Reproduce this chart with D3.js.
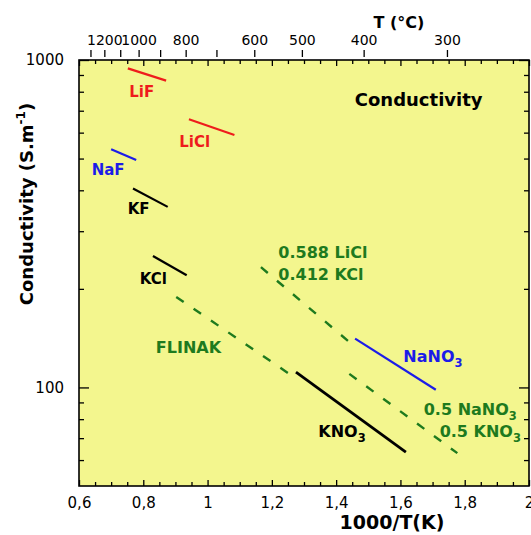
<!DOCTYPE html>
<html><head><meta charset="utf-8">
<script src="https://cdn.jsdelivr.net/npm/d3@7"></script>
<style>
html,body{margin:0;padding:0;background:#fff;}
svg{display:block;font-family:"DejaVu Sans",sans-serif;}
</style></head>
<body><svg id="c" width="531" height="535"></svg>
<script>
// ---- data ----
const seriesNames = ["LiF","LiCl","NaF","KF","KCl","FLINAK","LiCl-KCl","NaNO3","NaNO3-KNO3","KNO3"];
const invT = [[0.752,0.871],[0.942,1.0835],[0.700,0.778],[0.768,0.876],[0.830,0.935],
              [0.9025,1.26],[1.166,1.459],[1.459,1.710],[1.441,1.777],[1.275,1.617]];
const sigma = [[943,865],[659,590],[534,495],[405,356],[252,220],
               [189,109],[233,133],[141,98.4],[110,63],[111.4,63.4]];
const xMajor = [0.6,0.8,1.0,1.2,1.4,1.6,1.8,2.0];
const xMinor = [0.65,0.7,0.75,0.85,0.9,0.95,1.05,1.1,1.15,1.25,1.3,1.35,1.45,1.5,1.55,1.65,1.7,1.75,1.85,1.9,1.95];
const yMajor = [100,1000];
const yMinor = [60,70,80,90,200,300,400,500,600,700,800,900];
const tempC = [1300,1200,1100,1000,900,800,700,600,500,400,300];
const tempLabeled = [1200,1000,800,600,500,400,300];
// annotation anchors in data units [1000/T, sigma]
const labelText = ["LiF","LiCl","NaF","KF","KCl","FLINAK","0.588 LiCl","0.412 KCl","NaNO3","0.5 NaNO3","0.5 KNO3","KNO3"];
const labelPos = [[0.7565,771],[0.912,542],[0.6395,445],[0.7515,338],[0.789,207],[0.839,127.7],
                  [1.22,248.5],[1.22,212.8],[1.609,119.6],[1.6725,82.5],[1.722,70.5],[1.3446,70.5]];

// ---- styles ----
const RED="#ee1c1c", BLUE="#1c1ce8", GREEN="#1e7a1e", BLACK="#000";
const seriesStyle = {
  "LiF":{c:RED,w:2.2}, "LiCl":{c:RED,w:2.2}, "NaF":{c:BLUE,w:2.2}, "KF":{c:BLACK,w:2.2},
  "KCl":{c:BLACK,w:2.2}, "FLINAK":{c:GREEN,w:2.4,d:"9,12"}, "LiCl-KCl":{c:GREEN,w:2.4,d:"9,12"},
  "NaNO3":{c:BLUE,w:2.2}, "NaNO3-KNO3":{c:GREEN,w:2.4,d:"9,12"}, "KNO3":{c:BLACK,w:2.8}
};
const labelColor = [RED,RED,BLUE,BLACK,BLACK,GREEN,GREEN,GREEN,BLUE,GREEN,GREEN,BLACK];
const labelSize = [15,15,15,15,15,16,16,16,16,16,16,16];

const svg = d3.select("#c");
const L=79,R=529,T=60,B=486;
const x = d3.scaleLinear().domain([0.6,2]).range([L,R]);
const y = d3.scaleLog().domain([50,1000]).range([B,T]);

svg.append("rect").attr("x",L).attr("y",T).attr("width",R-L).attr("height",B-T).attr("fill","#f3f68e");

// lines
const line = d3.line().x(d=>x(d[0])).y(d=>y(d[1]));
seriesNames.forEach((n,i)=>{
  const pts = invT[i].map((v,j)=>[v,sigma[i][j]]);
  const s = seriesStyle[n];
  svg.append("path").datum(pts).attr("d",line).attr("fill","none")
    .attr("stroke",s.c).attr("stroke-width",s.w).attr("stroke-dasharray",s.d||null)
    .attr("stroke-linecap","butt");
});

// axes
function style(g, fs){
  g.select(".domain").remove();
  g.selectAll("line").attr("stroke","#000").attr("stroke-width",1.3);
  g.selectAll("text").attr("font-size",fs).attr("fill","#000").attr("font-family","DejaVu Sans");
}
const fmtX = d=>String(+d.toFixed(1)).replace(".",",");
svg.append("g").attr("transform",`translate(0,${B})`)
  .call(d3.axisBottom(x).tickValues(xMajor).tickSizeInner(-6).tickSizeOuter(0).tickPadding(11).tickFormat(fmtX))
  .call(g=>style(g,15));
svg.append("g").attr("transform",`translate(0,${B})`)
  .call(d3.axisBottom(x).tickValues(xMinor).tickSizeInner(-4).tickSizeOuter(0).tickFormat(""))
  .call(g=>style(g,15));
svg.append("g").attr("transform",`translate(0,${T})`)
  .call(d3.axisTop(x).tickValues(xMajor).tickSizeInner(-6).tickSizeOuter(0).tickFormat(""))
  .call(g=>style(g,15));
svg.append("g").attr("transform",`translate(0,${T})`)
  .call(d3.axisTop(x).tickValues(xMinor).tickSizeInner(-4).tickSizeOuter(0).tickFormat(""))
  .call(g=>style(g,15));
svg.append("g").attr("transform",`translate(${L},0)`)
  .call(d3.axisLeft(y).tickValues(yMajor).tickSizeInner(-10).tickSizeOuter(0).tickPadding(15).tickFormat(d3.format("d")))
  .call(g=>style(g,15));
svg.append("g").attr("transform",`translate(${L},0)`)
  .call(d3.axisLeft(y).tickValues(yMinor).tickSizeInner(-5).tickSizeOuter(0).tickFormat(""))
  .call(g=>style(g,15));
svg.append("g").attr("transform",`translate(${R},0)`)
  .call(d3.axisRight(y).tickValues(yMajor).tickSizeInner(-10).tickSizeOuter(0).tickFormat(""))
  .call(g=>style(g,15));
svg.append("g").attr("transform",`translate(${R},0)`)
  .call(d3.axisRight(y).tickValues(yMinor).tickSizeInner(-5).tickSizeOuter(0).tickFormat(""))
  .call(g=>style(g,15));
// top temperature axis
svg.append("g").attr("transform",`translate(0,57)`)
  .call(d3.axisTop(x).tickValues(tempC.map(t=>1000/(t+273.15))).tickSizeInner(7).tickSizeOuter(0).tickPadding(5)
    .tickFormat((d,i)=>tempLabeled.includes(tempC[i])?String(tempC[i]):""))
  .call(g=>style(g,14));

// frame
svg.append("rect").attr("x",L).attr("y",T).attr("width",R-L).attr("height",B-T)
  .attr("fill","none").attr("stroke","#000").attr("stroke-width",1.6);

// axis titles
svg.append("text").attr("x",392).attr("y",529).attr("text-anchor","middle")
  .attr("font-size",19).attr("font-weight","bold").text("1000/T(K)");
svg.append("text").attr("x",399).attr("y",28).attr("text-anchor","middle")
  .attr("font-size",16).attr("font-weight","bold").text("T (°C)");
const yt = svg.append("text").attr("transform","translate(33,204) rotate(-90)").attr("text-anchor","middle")
  .attr("font-size",18).attr("font-weight","bold");
yt.append("tspan").text("Conductivity  (S.m");
yt.append("tspan").attr("font-size",12).attr("dy",-8).text("-1");
yt.append("tspan").attr("dy",8).text(")");

// chart title
svg.append("text").attr("x",x(1.458)).attr("y",y(723.6)).attr("font-size",18).attr("font-weight","bold").text("Conductivity");

// series labels with subscripts
labelText.forEach((t,i)=>{
  const el = svg.append("text").attr("x",x(labelPos[i][0])).attr("y",y(labelPos[i][1]))
    .attr("font-size",labelSize[i]).attr("font-weight","bold").attr("fill",labelColor[i]);
  const m = t.match(/^(.*?)(\d)$/);
  if (m && /NO$/.test(m[1])) {
    el.append("tspan").text(m[1]);
    el.append("tspan").attr("font-size",labelSize[i]*0.72).attr("dy",5).text(m[2]);
  } else el.text(t);
});
</script></body></html>
